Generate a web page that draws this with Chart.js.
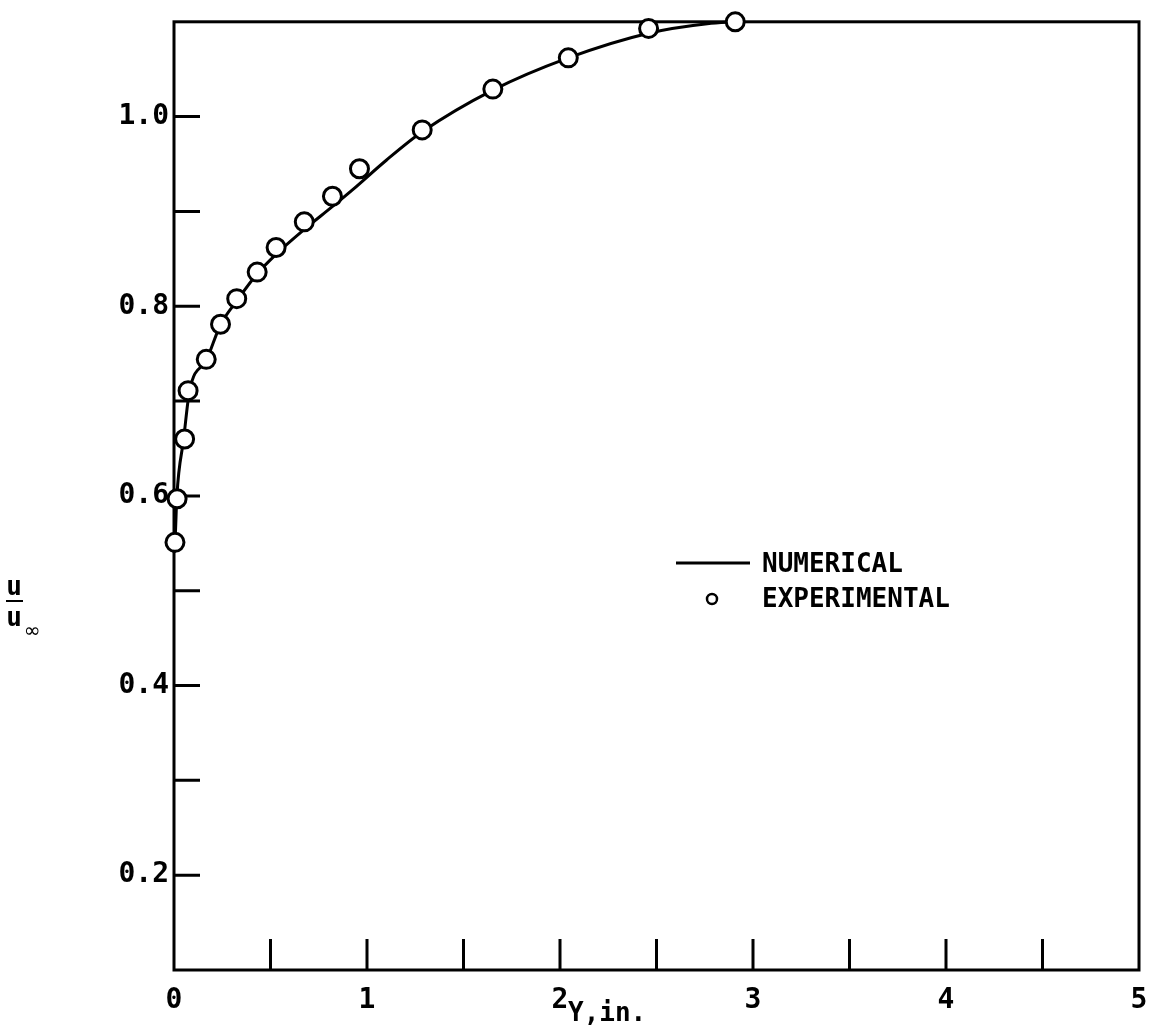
<!DOCTYPE html>
<html>
<head>
<meta charset="utf-8">
<script src="https://cdn.jsdelivr.net/npm/chart.js@4.4.1/dist/chart.umd.min.js"></script>
<style>
  body { margin: 0; background: #fff; }
  canvas { display: block; }
</style>
</head>
<body>
<canvas id="myChart" width="1162" height="1034"></canvas>
<script>
// distance from wall (in.) and velocity ratio u/u_inf
const numY = [0.0, 0.005, 0.015, 0.05, 0.08, 0.17, 0.24, 0.33, 0.43, 0.53, 0.675, 0.82, 0.926, 1.1, 1.286, 1.652, 2.043, 2.459, 2.763, 2.92];
const numU = [0.54, 0.55, 0.60, 0.66, 0.71, 0.744, 0.78, 0.807, 0.834, 0.855, 0.881, 0.905, 0.923, 0.954, 0.984, 1.028, 1.062, 1.088, 1.098, 1.1];

const expY = [0.005, 0.016, 0.055, 0.073, 0.167, 0.241, 0.325, 0.431, 0.529, 0.675, 0.821, 0.961, 1.286, 1.652, 2.043, 2.459, 2.908];
const expU = [0.551, 0.597, 0.660, 0.711, 0.744, 0.781, 0.808, 0.836, 0.862, 0.889, 0.916, 0.945, 0.986, 1.029, 1.062, 1.093, 1.100];

const xTickLabels = ['0', '1', '2', '3', '4', '5'];
const yTickLabels = ['0.2', '0.4', '0.6', '0.8', '1.0'];
// inward tick marks
const xTickMarks = [0.5, 1, 1.5, 2, 2.5, 3, 3.5, 4, 4.5];
const yTickMarks = [0.2, 0.3, 0.4, 0.5, 0.6, 0.7, 0.8, 0.9, 1.0];

const MONO = '"DejaVu Sans Mono", "Liberation Mono", monospace';
Chart.defaults.font.family = MONO;
Chart.defaults.font.weight = 'bold';
Chart.defaults.color = '#000';

// frame, inward tick marks, titles and legend
const paperAxes = {
    id: 'paperAxes',
    beforeDatasetsDraw(chart) {
        const { ctx, chartArea: a, scales: { x, y } } = chart;
        ctx.save();
        ctx.strokeStyle = '#000';
        ctx.lineWidth = 3;
        ctx.strokeRect(a.left, a.top, a.right - a.left, a.bottom - a.top);
        ctx.beginPath();
        yTickMarks.forEach(v => {
            const py = y.getPixelForValue(v);
            ctx.moveTo(a.left, py);
            ctx.lineTo(a.left + 26, py);
        });
        xTickMarks.forEach(v => {
            const px = x.getPixelForValue(v);
            ctx.moveTo(px, a.bottom);
            ctx.lineTo(px, a.bottom - 31);
        });
        ctx.stroke();
        ctx.restore();
    },
    afterDraw(chart) {
        const ctx = chart.ctx;
        ctx.save();
        ctx.fillStyle = '#000';
        ctx.strokeStyle = '#000';
        ctx.textBaseline = 'middle';

        // x axis title
        ctx.font = 'bold 26px ' + MONO;
        ctx.textAlign = 'left';
        ctx.fillText('Y,in.', 568, 1014);

        // y axis title u / u∞
        ctx.textAlign = 'center';
        ctx.font = 'bold 26px ' + MONO;
        ctx.fillText('u', 14, 588);
        ctx.fillText('u', 14, 619);
        ctx.lineWidth = 2;
        ctx.beginPath();
        ctx.moveTo(6, 601);
        ctx.lineTo(23, 601);
        ctx.stroke();
        ctx.font = '20px "DejaVu Sans", sans-serif';
        ctx.fillText('\u221E', 32, 632);

        // legend
        ctx.lineWidth = 3;
        ctx.beginPath();
        ctx.moveTo(676, 563);
        ctx.lineTo(750, 563);
        ctx.stroke();
        ctx.lineWidth = 2.5;
        ctx.fillStyle = '#fff';
        ctx.beginPath();
        ctx.arc(712, 599, 5, 0, Math.PI * 2);
        ctx.fill();
        ctx.stroke();
        ctx.fillStyle = '#000';
        ctx.textAlign = 'left';
        ctx.font = 'bold 26px ' + MONO;
        ctx.fillText('NUMERICAL', 762, 565);
        ctx.fillText('EXPERIMENTAL', 762, 600);
        ctx.restore();
    }
};

const ctx = document.getElementById('myChart');

new Chart(ctx, {
    type: 'scatter',
    data: {
        datasets: [{
            label: 'EXPERIMENTAL',
            data: expY.map((v, i) => ({ x: v, y: expU[i] })),
            showLine: false,
            pointRadius: 9,
            pointBorderWidth: 3,
            pointBorderColor: '#000',
            pointBackgroundColor: '#fff',
            clip: false
        }, {
            label: 'NUMERICAL',
            data: numY.map((v, i) => ({ x: v, y: numU[i] })),
            showLine: true,
            pointRadius: 0,
            borderWidth: 3,
            borderColor: '#000',
            cubicInterpolationMode: 'monotone',
            clip: false
        }]
    },
    options: {
        responsive: false,
        animation: false,
        events: [],
        layout: {
            padding: { top: 13, right: 23, left: 0, bottom: 0 }
        },
        scales: {
            x: {
                type: 'linear',
                min: 0,
                max: 5,
                grid: { display: false, drawTicks: false },
                border: { display: false },
                afterFit: s => { s.height = 64; },
                ticks: {
                    stepSize: 1,
                    maxRotation: 0,
                    padding: 14,
                    font: { size: 28 },
                    callback: v => xTickLabels.includes(String(v)) ? String(v) : null
                }
            },
            y: {
                type: 'linear',
                min: 0.1,
                max: 1.1,
                grid: { display: false, drawTicks: false },
                border: { display: false },
                afterFit: s => { s.width = 174; },
                ticks: {
                    stepSize: 0.1,
                    autoSkip: false,
                    padding: 5,
                    font: { size: 28 },
                    callback: v => yTickLabels.includes(v.toFixed(1)) ? v.toFixed(1) : null
                }
            }
        },
        plugins: {
            legend: { display: false },
            tooltip: { enabled: false }
        }
    },
    plugins: [paperAxes]
});
</script>
</body>
</html>
